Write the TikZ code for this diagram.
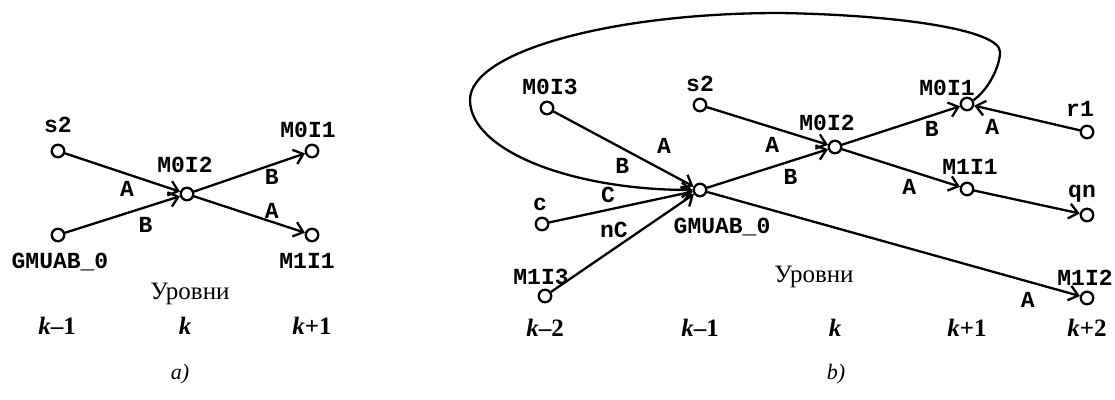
\documentclass[tikz,border=0pt]{standalone}
\usepackage{fontspec}
\setmainfont{Liberation Serif}
\newfontfamily\labfont{Liberation Mono}
\usetikzlibrary{arrows.meta, positioning}

\begin{document}
\begin{tikzpicture}[
    x=1pt, y=1pt,
    vertex/.style={circle, draw, line width=2.3pt, minimum size=12.5pt, inner sep=0pt},
    lbl/.style={inner sep=0pt, text height=13pt, text depth=0pt, font=\labfont\bfseries\fontsize{23}{24}\selectfont},
    elbl/.style={lbl},
    arrow/.style={-{Straight Barb[length=9pt, width=15pt]}, line width=2.3pt},
    level/.style={font=\fontsize{25}{27}\selectfont},
    caption/.style={font=\fontsize{22}{24}\selectfont\itshape}
]
    \useasboundingbox (0,0) rectangle (1115,399);

    % a) vertices
    \node[vertex] (s2a) at (58,248) {};
    \node[vertex] (gmuaba) at (58,164) {};
    \node[vertex] (m0i2a) at (187,205) {};
    \node[vertex] (m0i1a) at (312,248) {};
    \node[vertex] (m1i1a) at (312,164) {};

    \node[lbl, above=11pt of s2a] (s2alab) {s2};
    \node[lbl, below=13pt of gmuaba, xshift=2pt] (gmuabalab) {GMUAB\_0};
    \node[lbl, above=14pt of m0i2a, xshift=-2pt] (m0i2alab) {M0I2};
    \node[lbl, above=6pt of m0i1a, xshift=-4pt] (m0i1alab) {M0I1};
    \node[lbl, below=13pt of m1i1a, xshift=-5pt] (m1i1alab) {M1I1};

    % a) connections
    \draw[arrow] (s2a) -- (m0i2a) node[elbl, pos=.54, yshift=-16pt] {A};
    \draw[arrow] (gmuaba) -- (m0i2a) node[elbl, pos=.70, yshift=-19pt] {B};
    \draw[arrow] (m0i2a) -- (m0i1a) node[elbl, pos=.70, yshift=-13pt] {B};
    \draw[arrow] (m0i2a) -- (m1i1a) node[elbl, pos=.70, yshift=10pt] {A};

    % a) levels
    \node[level] (levela) at (190,105) {Уровни};
    \node[level] (ka1) at (57,73) {\textbf{\textit{k}--1}};
    \node[level] (ka2) at (185,73) {\textbf{\textit{k}}};
    \node[level] (ka3) at (312,73) {\textbf{\textit{k}+1}};
    \node[caption] (capa) at (180,25) {a)};

    % b) vertices
    \node[vertex] (m0i3) at (547,291) {};
    \node[vertex] (s2b) at (700,294) {};
    \node[vertex] (m0i2b) at (835,252) {};
    \node[vertex] (m0i1b) at (967,295) {};
    \node[vertex] (r1) at (1087,267) {};
    \node[vertex] (m1i1b) at (967,210) {};
    \node[vertex] (qn) at (1087,184) {};
    \node[vertex] (cin) at (542,175) {};
    \node[vertex] (gmuabb) at (700,209) {};
    \node[vertex] (m1i3) at (545,103) {};
    \node[vertex] (m1i2) at (1087,101) {};

    \node[lbl, above=6pt of m0i3, xshift=3pt] (m0i3lab) {M0I3};
    \node[lbl, above=6pt of s2b] (s2blab) {s2};
    \node[lbl, above=9pt of m0i2b, xshift=-8pt] (m0i2blab) {M0I2};
    \node[lbl, above=1pt of m0i1b, xshift=-20pt] (m0i1blab) {M0I1};
    \node[lbl, above=8pt of r1, xshift=-7pt] (r1lab) {r1};
    \node[lbl, above=7pt of m1i1b, xshift=3pt] (m1i1blab) {M1I1};
    \node[lbl, above=10pt of qn, xshift=-5pt] (qnlab) {qn};
    \node[lbl, above=6pt of cin, xshift=-2pt] (cinlab) {c};
    \node[lbl, below=23pt of gmuabb, xshift=22pt] (gmuabblab) {GMUAB\_0};
    \node[lbl, above=4pt of m1i3, xshift=-4pt] (m1i3lab) {M1I3};
    \node[lbl, above=5pt of m1i2, xshift=-2pt] (m1i2lab) {M1I2};

    % b) connections
    \draw[arrow] (m0i3) -- (gmuabb) node[elbl, pos=.79, yshift=24pt] {A};
    \draw[arrow] (cin) -- (gmuabb) node[elbl, pos=.41, yshift=14pt] {C};
    \draw[arrow] (m1i3) -- (gmuabb) node[elbl, pos=.44, yshift=18pt] {nC};
    \draw[arrow] (s2b) -- (m0i2b) node[elbl, pos=.54, yshift=-18pt] {A};
    \draw[arrow] (gmuabb) -- (m0i2b) node[elbl, pos=.69, yshift=-17pt] {B};
    \draw[arrow] (m0i2b) -- (m0i1b) node[elbl, pos=.76, yshift=-14pt] {B};
    \draw[arrow] (r1) -- (m0i1b) node[elbl, pos=.83, yshift=-18pt] {A};
    \draw[arrow] (m0i2b) -- (m1i1b) node[elbl, pos=.57, yshift=-17pt] {A};
    \draw[arrow] (m1i1b) -- (qn);
    \draw[arrow] (gmuabb) -- (m1i2) node[elbl, pos=.86, yshift=-20pt] {A};

    % b) feedback loop
    \draw[arrow] (m0i1b.30) .. controls (990,311) and (1000,334) .. (1000,347)
        .. controls (1000,369) and (900,384) .. (780,386)
        .. controls (610,386) and (470,347) .. (470,299)
        .. controls (470,249) and (570,209) .. (gmuabb.west)
        node[elbl, pos=.8, yshift=18pt] {B};

    % b) levels
    \node[level] (levelb) at (814,122) {Уровни};
    \node[level] (kb1) at (545,71) {\textbf{\textit{k}--2}};
    \node[level] (kb2) at (700,71) {\textbf{\textit{k}--1}};
    \node[level] (kb3) at (835,71) {\textbf{\textit{k}}};
    \node[level] (kb4) at (967,71) {\textbf{\textit{k}+1}};
    \node[level] (kb5) at (1087,71) {\textbf{\textit{k}+2}};
    \node[caption] (capb) at (836,25) {b)};

\end{tikzpicture}
\end{document}
